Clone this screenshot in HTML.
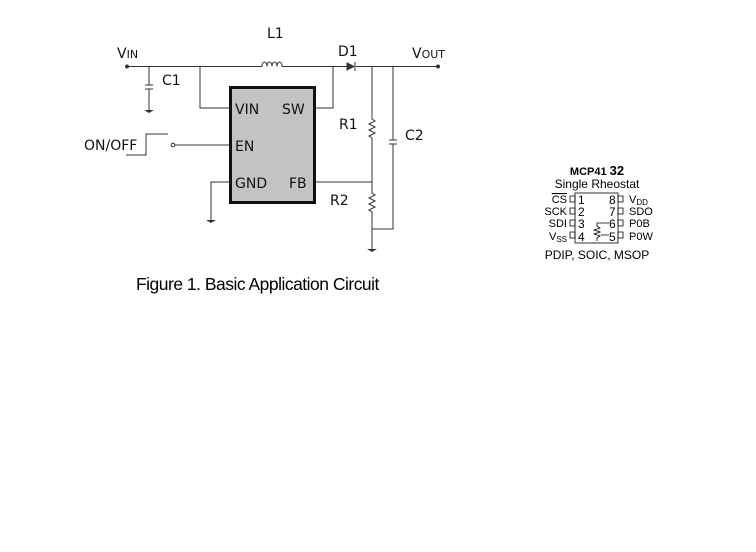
<!DOCTYPE html>
<html><head><style>
body{margin:0;background:#fff;width:756px;height:552px;overflow:hidden}
svg{position:absolute;left:0;top:0}
text{font-family:"DejaVu Sans","Liberation Sans",sans-serif;fill:#111}
.a{font-family:"Liberation Sans",sans-serif;fill:#000}
</style></head><body>
<svg width="756" height="552" viewBox="0 0 756 552">
<g stroke="#333" stroke-width="1" fill="none">
<path d="M127 66.5H262M282 66.5H347M356 66.5H438"/>
<path d="M262 66.5c0-6 5-6 5 0c0-6 5-6 5 0c0-6 5-6 5 0c0-6 5-6 5 0" />
<path d="M347 63L354 66.5L347 70Z" fill="#333"/><path d="M355 62V71"/>
<path d="M149 66.5V85M149 89V110M145 85H153M145 89H153"/>
<path d="M200 66.5V108H229M333 66.5V108H316"/>
<path d="M173 145H229"/>
<path d="M229 182H211V220"/>
<path d="M316 182H372"/>
<path d="M372 66.5V119l3 2-6 3 6 3-6 3 6 3-6 3 3 2V193l3 2-6 3 6 3-6 3 6 3-6 3 3 2V249"/>
<path d="M393 66.5V140M393 144V229H372M389 140H397M389 144H397"/>
<path d="M126 155H146V134H168"/>
</g>
<g fill="#333">
<circle cx="127" cy="66.5" r="2"/><circle cx="438" cy="66.5" r="2"/>
<circle cx="173" cy="145" r="1.8" fill="#fff" stroke="#333"/>
<path d="M144 110h10l-5 3z"/><path d="M206 220h10l-5 3z"/><path d="M367 249h10l-5 3z"/>
</g>
<rect x="230.5" y="87.5" width="84" height="115" fill="#c3c3c3" stroke="#111" stroke-width="3"/>
<g font-size="14">
<text x="235" y="114">VIN</text><text x="282" y="114">SW</text>
<text x="235" y="151">EN</text>
<text x="235" y="188">GND</text><text x="289" y="188">FB</text>
<text x="117" y="58">V<tspan font-size="11">IN</tspan></text>
<text x="267" y="38">L1</text>
<text x="338" y="56">D1</text>
<text x="412" y="58">V<tspan font-size="11">OUT</tspan></text>
<text x="162" y="85">C1</text>
<text x="339" y="129">R1</text>
<text x="405" y="140">C2</text>
<text x="330" y="205">R2</text>
<text x="84" y="150">ON/OFF</text>
</g>
<text class="a" x="136" y="290" font-size="18" transform="translate(136 0) scale(0.97 1) translate(-136 0)" letter-spacing="-0.5">Figure 1. Basic Application Circuit</text>
<g class="a" font-size="11">
<text class="a" x="597" y="175" text-anchor="middle" font-weight="bold" font-size="11">MCP41<tspan dx="3" font-size="13">32</tspan></text>
<text class="a" x="597" y="188" text-anchor="middle" font-size="12">Single Rheostat</text>
<text class="a" x="567" y="203" text-anchor="end" text-decoration="overline">CS</text>
<text class="a" x="567" y="215" text-anchor="end">SCK</text>
<text class="a" x="567" y="227" text-anchor="end">SDI</text>
<text class="a" x="567" y="240" text-anchor="end">V<tspan font-size="8" dy="2">SS</tspan></text>
<text class="a" x="578" y="204" font-size="12">1</text><text class="a" x="578" y="216" font-size="12">2</text><text class="a" x="578" y="228" font-size="12">3</text><text class="a" x="578" y="241" font-size="12">4</text>
<text class="a" x="609" y="204" font-size="12">8</text><text class="a" x="609" y="216" font-size="12">7</text><text class="a" x="609" y="228" font-size="12">6</text><text class="a" x="609" y="241" font-size="12">5</text>
<text class="a" x="629" y="203">V<tspan font-size="8" dy="2">DD</tspan></text>
<text class="a" x="629" y="215">SDO</text><text class="a" x="629" y="227">P0B</text><text class="a" x="629" y="240">P0W</text>
<text class="a" x="597" y="259" text-anchor="middle" font-size="12">PDIP, SOIC, MSOP</text>
</g>
<g stroke="#000" fill="none" stroke-width="0.8">
<rect x="575" y="193" width="43" height="50"/>
<path d="M570 196h5v6h-5zM570 208h5v6h-5zM570 220h5v6h-5zM570 232h5v6h-5zM618 196h5v6h-5zM618 208h5v6h-5zM618 220h5v6h-5zM618 232h5v6h-5z"/>
<path d="M609 223H597v3l3 2-6 2 6 2-6 2 6 2-3 2v3M609 235H601"/>
</g>
</svg>
</body></html>
